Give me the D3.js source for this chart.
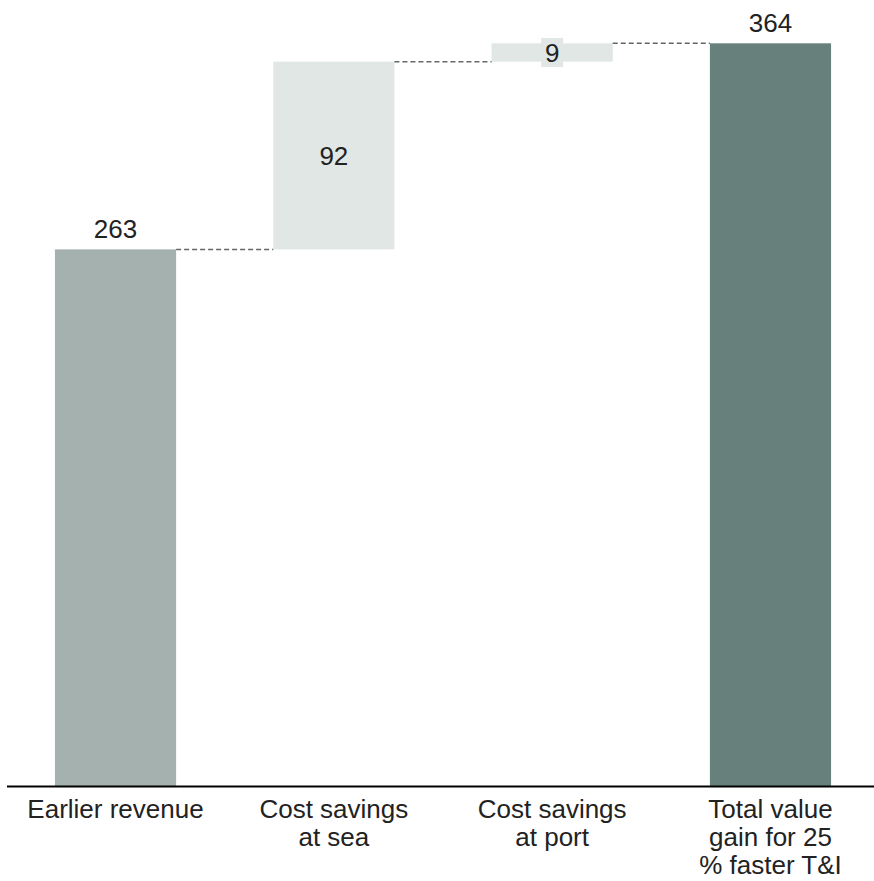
<!DOCTYPE html>
<html>
<head>
<meta charset="utf-8">
<script src="https://cdn.jsdelivr.net/npm/d3@7"></script>
<style>
  html, body { margin: 0; padding: 0; background: #fff; }
  svg { display: block; font-family: "Liberation Sans", Arial, sans-serif; }
</style>
</head>
<body>
<svg id="chart" width="874" height="881"></svg>
<script>
// Waterfall: starting value, two increments, total
const categories = [
  ["Earlier revenue"],
  ["Cost savings", "at sea"],
  ["Cost savings", "at port"],
  ["Total value", "gain for 25", "% faster T&I"]
];
const values = [263, 92, 9, 364];
const kinds = ["start", "step", "step", "total"];
const colors = { start: "#a4b1af", step: "#e1e7e5", total: "#68807c" };

// running bases for the floating bars
let run = 0;
const bars = values.map((v, i) => {
  let y0, y1;
  if (kinds[i] === "start" || kinds[i] === "total") { y0 = 0; y1 = v; run = v; }
  else { y0 = run; y1 = run + v; run = y1; }
  return { i, v, y0, y1, kind: kinds[i], label: categories[i] };
});

const svg = d3.select("#chart");
const x = d3.scaleBand()
  .domain(d3.range(values.length))
  .range([8, 878])
  .paddingInner(0.445)
  .paddingOuter(0.215);
const y = d3.scaleLinear().domain([0, 364]).range([786, 43.3]);

// bars
svg.append("g").selectAll("rect").data(bars).join("rect")
  .attr("x", d => x(d.i))
  .attr("width", x.bandwidth())
  .attr("y", d => y(d.y1))
  .attr("height", d => y(d.y0) - y(d.y1))
  .attr("fill", d => colors[d.kind]);

// dashed connectors between consecutive bar tops
svg.append("g").selectAll("line").data(bars.slice(0, -1)).join("line")
  .attr("x1", d => x(d.i) + x.bandwidth())
  .attr("x2", d => x(d.i + 1))
  .attr("y1", d => y(d.y1))
  .attr("y2", d => y(d.y1))
  .attr("stroke", "#666")
  .attr("stroke-width", 1.5)
  .attr("stroke-dasharray", "5,3");

// baseline
svg.append("line")
  .attr("x1", 7).attr("x2", 874)
  .attr("y1", y(0) + 0.5).attr("y2", y(0) + 0.5)
  .attr("stroke", "#000").attr("stroke-width", 2.2);

// value labels
const fs = 26;
const labels = svg.append("g").attr("font-size", fs).attr("fill", "#222").attr("text-anchor", "middle");
bars.forEach(d => {
  const cx = x(d.i) + x.bandwidth() / 2;
  if (d.kind === "step") {
    const cy = (y(d.y0) + y(d.y1)) / 2;
    if (y(d.y0) - y(d.y1) < 30) {
      // small step: label sits on its own patch
      labels.append("rect")
        .attr("x", cx - 11).attr("width", 22)
        .attr("y", cy - 14.5).attr("height", 29)
        .attr("fill", colors.step);
    }
    labels.append("text")
      .attr("x", cx).attr("y", cy + 9.3)
      .text(d.v);
  } else {
    labels.append("text")
      .attr("x", cx).attr("y", y(d.y1) - 11)
      .text(d.v);
  }
});

// category labels
const cat = svg.append("g").attr("font-size", fs).attr("fill", "#222").attr("text-anchor", "middle");
bars.forEach(d => {
  const cx = x(d.i) + x.bandwidth() / 2;
  const t = cat.append("text").attr("x", cx).attr("y", 818);
  d.label.forEach((line, k) => {
    t.append("tspan").attr("x", cx).attr("y", 818 + k * 28).text(line);
  });
});
</script>
</body>
</html>
